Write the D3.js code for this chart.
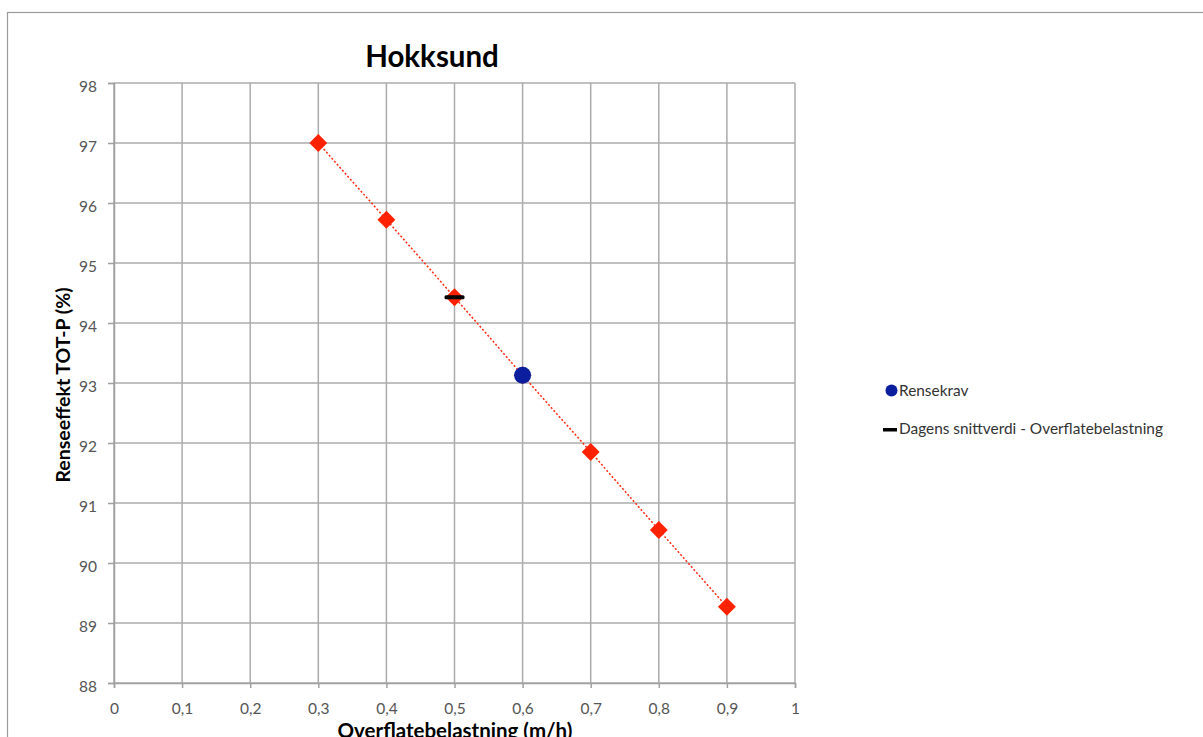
<!DOCTYPE html>
<html>
<head>
<meta charset="utf-8">
<script src="https://cdn.jsdelivr.net/npm/d3@7"></script>
<style>
  html, body { margin: 0; padding: 0; background: #fff; }
  svg { display: block; }
  text { font-family: Lato, "Open Sans", sans-serif; }
</style>
</head>
<body>
<svg id="chart" width="1203" height="737"></svg>
<script>
// Overflatebelastning (m/h) vs. renseeffekt TOT-P (%)
const loadValues = [0.3, 0.4, 0.5, 0.6, 0.7, 0.8, 0.9];
const efficiencyValues = [97.0, 95.72, 94.43, 93.13, 91.85, 90.55, 89.27];

// Rensekrav (requirement) point
const requirementLoad = [0.6];
const requirementEff = [93.13];

// Today's average surface load
const currentLoad = [0.5];
const currentEff = [94.43];

const xTicks = [0, 0.1, 0.2, 0.3, 0.4, 0.5, 0.6, 0.7, 0.8, 0.9, 1];
const yTicks = [88, 89, 90, 91, 92, 93, 94, 95, 96, 97, 98];

const legendLabels = ["Rensekrav", "Dagens snittverdi - Overflatebelastning"];
const titleText = "Hokksund";
const xTitle = "Overflatebelastning (m/h)";
const yTitle = "Renseeffekt TOT-P (%)";

const svg = d3.select("#chart");
const plot = { left: 114, right: 795, top: 83, bottom: 683 };

const x = d3.scaleLinear().domain([0, 1]).range([plot.left, plot.right]);
const y = d3.scaleLinear().domain([88, 98]).range([plot.bottom, plot.top]);

// outer chart frame
svg.append("rect")
  .attr("x", 7.5).attr("y", 12.5)
  .attr("width", 1300).attr("height", 800)
  .attr("fill", "none").attr("stroke", "#9a9a9a").attr("stroke-width", 1.2);

// gridlines
const grid = svg.append("g");
grid.selectAll("line.h").data(yTicks).join("line")
  .attr("x1", plot.left).attr("x2", plot.right)
  .attr("y1", d => y(d)).attr("y2", d => y(d))
  .attr("stroke", "#ababab").attr("stroke-width", 1.5);
grid.selectAll("line.v").data(xTicks).join("line")
  .attr("x1", d => x(d)).attr("x2", d => x(d))
  .attr("y1", plot.top).attr("y2", plot.bottom)
  .attr("stroke", "#ababab").attr("stroke-width", 1.5);

// axes
const xAxis = d3.axisBottom(x).tickValues(xTicks).tickSize(5).tickPadding(15)
  .tickFormat(d => String(d).replace(".", ","));
const yAxis = d3.axisLeft(y).tickValues(yTicks).tickSize(6).tickPadding(11)
  .tickFormat(d3.format("d"));

const gx = svg.append("g").attr("transform", `translate(0,${plot.bottom})`).call(xAxis);
const gy = svg.append("g").attr("transform", `translate(${plot.left},0)`).call(yAxis);
[gx, gy].forEach(g => {
  g.select(".domain").attr("stroke", "#a0a0a0").attr("stroke-width", 1.5);
  g.selectAll(".tick line").attr("stroke", "#a0a0a0").attr("stroke-width", 1.5);
  g.selectAll(".tick text").attr("fill", "#555").attr("font-size", 15.5)
    .attr("font-family", "Lato, 'Open Sans', sans-serif");
});
gy.selectAll(".tick text").attr("dy", "0.52em");

// dotted connecting line
const line = d3.line().x(d => x(d[0])).y(d => y(d[1]));
svg.append("path")
  .datum(d3.zip(loadValues, efficiencyValues))
  .attr("d", line)
  .attr("fill", "none")
  .attr("stroke", "#ff2a10")
  .attr("stroke-width", 1.5)
  .attr("stroke-dasharray", "2,2");

// red diamond markers
const diamond = d3.symbol().type(d3.symbolSquare).size(160);
svg.append("g").selectAll("path")
  .data(d3.zip(loadValues, efficiencyValues))
  .join("path")
  .attr("d", diamond)
  .attr("transform", d => `translate(${x(d[0])},${y(d[1])}) rotate(45)`)
  .attr("fill", "#ff2200");

// current average marker (short black dash)
svg.append("g").selectAll("rect")
  .data(d3.zip(currentLoad, currentEff))
  .join("rect")
  .attr("x", d => x(d[0]) - 10).attr("y", d => y(d[1]) - 2)
  .attr("width", 20).attr("height", 4).attr("rx", 1.5)
  .attr("fill", "#000");

// requirement marker
svg.append("g").selectAll("circle")
  .data(d3.zip(requirementLoad, requirementEff))
  .join("circle")
  .attr("cx", d => x(d[0])).attr("cy", d => y(d[1]))
  .attr("r", 8.5)
  .attr("fill", "#0a1e9e");

// title
svg.append("text")
  .attr("x", 432).attr("y", 67)
  .attr("text-anchor", "middle")
  .attr("font-size", 29.5).attr("font-weight", "bold")
  .attr("fill", "#000")
  .text(titleText);

// axis titles
svg.append("text")
  .attr("x", 455).attr("y", 738)
  .attr("text-anchor", "middle")
  .attr("font-size", 20.5).attr("font-weight", "bold")
  .attr("fill", "#000")
  .text(xTitle);

svg.append("text")
  .attr("transform", `translate(70,${385}) rotate(-90)`)
  .attr("text-anchor", "middle")
  .attr("font-size", 19.5).attr("font-weight", "bold")
  .attr("fill", "#000")
  .text(yTitle);

// legend
const legend = svg.append("g");
legend.append("circle")
  .attr("cx", 891.5).attr("cy", 390.5).attr("r", 6)
  .attr("fill", "#0a1e9e");
legend.append("rect")
  .attr("x", 883).attr("y", 428).attr("width", 14).attr("height", 3.5)
  .attr("fill", "#000");
legend.selectAll("text").data(legendLabels).join("text")
  .attr("x", 899).attr("y", (d, i) => 396 + i * 38)
  .attr("font-size", 15.4)
  .attr("fill", "#333")
  .text(d => d);
</script>
</body>
</html>
